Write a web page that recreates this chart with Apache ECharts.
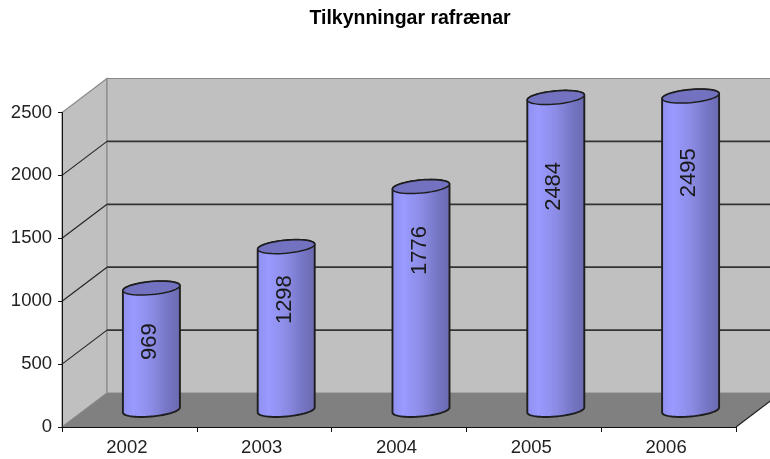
<!DOCTYPE html>
<html><head><meta charset="utf-8">
<style>html,body{margin:0;padding:0;background:#fff}#c{width:770px;height:459px}</style>
<script src="https://cdn.jsdelivr.net/npm/echarts@6/dist/echarts.min.js"></script>
</head><body><div id="c"></div>
<script>
const chartTitle = 'Tilkynningar rafrænar';
const categories = ['2002', '2003', '2004', '2005', '2006'];
const values = [969, 1298, 1776, 2484, 2495];
const gridValues = [500, 1000, 1500, 2000];
const labelLift = [0.70, 0.78, 0.79, 0.77, 0.81];

const DX = 45, DY = -34;           // depth of the 3D box
const HALF_DX = 22, HALF_DY = -17; // where the bars stand on the floor
const RX = 28.5, RY = 6.5, TILT = 2.5;

function ellipsePts(cx, cy, from, to) {
  const pts = [], n = 48;
  for (let k = 0; k <= n; k++) {
    const t = from + (to - from) * k / n;
    pts.push([cx + RX * Math.cos(t), cy - TILT * Math.cos(t) + RY * Math.sin(t)]);
  }
  return pts;
}

function renderBox(params, api) {
  const cs = params.coordSys;
  const l = cs.x, r = cs.x + cs.width;
  const y0 = api.coord([0, 0])[1], yTop = api.coord([0, 2500])[1];
  const children = [];
  const wall = {fill: '#c0c0c0', stroke: '#8a8a8a', lineWidth: 1.2};
  children.push({type: 'polygon', shape: {points: [[l, y0], [l + DX, y0 + DY], [l + DX, yTop + DY], [l, yTop]]}, style: wall});
  children.push({type: 'polygon', shape: {points: [[l + DX, y0 + DY], [r + DX, y0 + DY], [r + DX, yTop + DY], [l + DX, yTop + DY]]}, style: wall});
  children.push({type: 'polygon', shape: {points: [[l, y0], [l + DX, y0 + DY], [r + DX, y0 + DY], [r, y0]]}, style: {fill: '#808080'}});
  children.push({type: 'line', shape: {x1: r, y1: y0, x2: r + DX, y2: y0 + DY}, style: {stroke: '#222', lineWidth: 1.2}});
  gridValues.forEach(v => {
    const y = api.coord([0, v])[1];
    children.push({type: 'line', shape: {x1: l, y1: y, x2: l + DX, y2: y + DY}, style: {stroke: '#222', lineWidth: 1.1}});
    children.push({type: 'line', shape: {x1: l + DX, y1: y + DY, x2: r + DX, y2: y + DY}, style: {stroke: '#333', lineWidth: 1.8}});
  });
  return {type: 'group', children};
}

function renderCyl(params, api) {
  const i = api.value(0), v = api.value(1);
  const top = api.coord([i, v]), base = api.coord([i, 0]);
  const cx = top[0] + HALF_DX;
  const yT = top[1] + HALF_DY, yB = base[1] + HALF_DY;
  const body = ellipsePts(cx, yB, Math.PI, 0).concat(ellipsePts(cx, yT, 0, -Math.PI));
  const lift = api.coord([i, v * labelLift[i]])[1];
  const fill = {type: 'linear', x: 0, y: 0, x2: 1, y2: 0, colorStops: [
    {offset: 0, color: '#8f8fee'}, {offset: 0.2, color: '#9a9aff'},
    {offset: 0.5, color: '#8c8ce6'}, {offset: 0.8, color: '#7474c2'}, {offset: 1, color: '#6a6ab0'}]};
  return {type: 'group', children: [
    {type: 'polygon', shape: {points: body}, style: {fill, stroke: '#1e1e1e', lineWidth: 1.9, lineJoin: 'round'}},
    {type: 'polygon', shape: {points: ellipsePts(cx, yT, 0, 2 * Math.PI)}, style: {fill: '#7272c0', stroke: '#1e1e1e', lineWidth: 1.5}},
    {type: 'text', x: cx - 1.5, y: lift, rotation: Math.PI / 2,
      style: {text: String(v), fill: '#1a1a1a', font: '22px "Liberation Sans", Arial, sans-serif', align: 'center', verticalAlign: 'middle'}}
  ]};
}

const chart = echarts.init(document.getElementById('c'), null, {renderer: 'canvas'});
const axisFont = {color: '#222', fontFamily: '"Liberation Sans", Arial, sans-serif', fontSize: 18.5};
chart.setOption({
  animation: false,
  backgroundColor: '#fff',
  title: {text: chartTitle, left: 405, top: 4, textAlign: 'center',
    textStyle: {fontFamily: '"Liberation Sans", Arial, sans-serif', fontWeight: 'bold', fontSize: 19.5, color: '#000'}},
  grid: {left: 62, right: 34, top: 112.5, bottom: 32},
  xAxis: {type: 'category', data: categories, boundaryGap: true, z: 6,
    axisLine: {show: true, lineStyle: {color: '#111', width: 1}},
    axisTick: {show: true, alignWithLabel: false, length: 5, lineStyle: {color: '#111'}},
    axisLabel: Object.assign({margin: 11, padding: [0, 5, 0, 0]}, axisFont), splitLine: {show: false}},
  yAxis: {type: 'value', min: 0, max: 2500, interval: 500, z: 6,
    axisLine: {show: true, lineStyle: {color: '#111', width: 1}},
    axisTick: {show: true, length: 4, lineStyle: {color: '#111'}},
    axisLabel: Object.assign({margin: 10, formatter: v => String(v)}, axisFont), splitLine: {show: false}},
  series: [
    {type: 'custom', coordinateSystem: 'cartesian2d', z: 1, silent: true, clip: false, renderItem: renderBox, data: [[0, 0]]},
    {type: 'custom', coordinateSystem: 'cartesian2d', z: 3, clip: false, renderItem: renderCyl,
      encode: {x: 0, y: 1}, data: values.map((v, i) => [i, v])}
  ]
});
</script></body></html>
